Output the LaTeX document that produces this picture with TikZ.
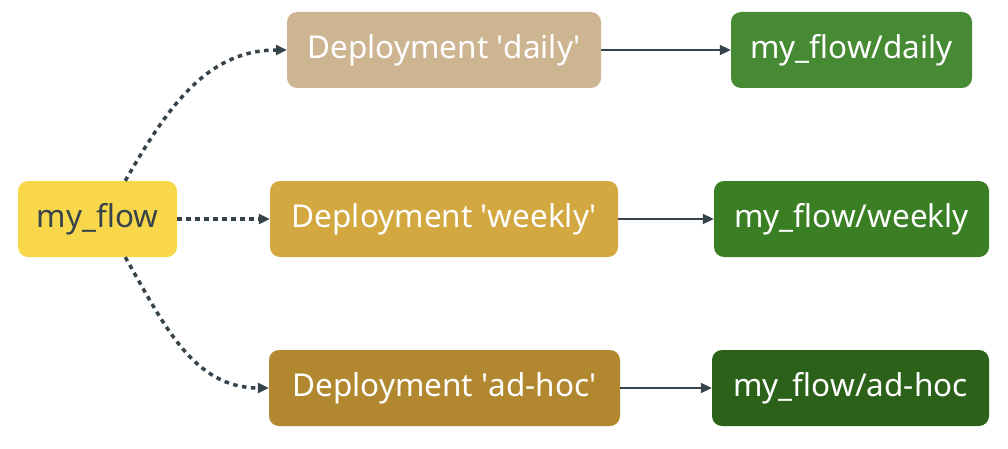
\documentclass[tikz,border=0pt]{standalone}
\usepackage{fontspec}
\setmainfont{Noto Sans}
\usepackage{tikz}
\usetikzlibrary{arrows.meta,positioning}
\definecolor{flowyellow}{HTML}{F8D84A}
\definecolor{dailytan}{HTML}{CEB592}
\definecolor{weeklygold}{HTML}{D3A840}
\definecolor{adhocbrown}{HTML}{B1882F}
\definecolor{dailygreen}{HTML}{468A34}
\definecolor{weeklygreen}{HTML}{3A7F23}
\definecolor{adhocgreen}{HTML}{2C611A}
\definecolor{slate}{HTML}{37434B}
\newcommand{\q}{\textquotesingle}
\tikzset{
  box/.style={rounded corners=10pt, minimum height=76pt, inner sep=0pt,
    text=white, font=\fontsize{31.5}{34}\selectfont},
  dep/.style={->, >={Triangle[length=11pt,width=10pt]}, color=slate, line width=2pt},
  link/.style={->, >={Triangle[length=11pt,width=10pt]}, color=slate, line width=3.5pt,
    dash pattern=on 4.5pt off 4.5pt}
}

\begin{document}
\begin{tikzpicture}[x=1pt,y=1pt]
      \useasboundingbox[fill=white] (0,0) rectangle (1008,448);
      \node[box, fill=flowyellow, text=slate, minimum width=159pt] (flow) at (97.5,229) {my\_flow};

      \node[box, fill=dailytan, minimum width=314pt] (daily) at (444,398) {Deployment \q daily\q};
      \node[box, fill=weeklygold, minimum width=348pt] (weekly) at (444,229) {Deployment \q weekly\q};
      \node[box, fill=adhocbrown, minimum width=351pt] (adhoc) at (444.5,60) {Deployment \q ad-hoc\q};

      \node[box, fill=dailygreen, minimum width=241pt] (rdaily) at (851.5,398) {my\_flow/daily};
      \node[box, fill=weeklygreen, minimum width=275pt] (rweekly) at (851.5,229) {my\_flow/weekly};
      \node[box, fill=adhocgreen, minimum width=277pt] (radhoc) at (850.5,60) {my\_flow/ad-hoc};

      \draw[link] (flow.54) to[out=60, in=180] (daily.west);
      \draw[link] (flow.east) -- (weekly.west);
      \draw[link] (flow.-54) to[out=-60, in=180] (adhoc.west);

      \draw[dep] (daily) -- (rdaily);
      \draw[dep] (weekly) -- (rweekly);
      \draw[dep] (adhoc) -- (radhoc);
    \end{tikzpicture}
\end{document}
